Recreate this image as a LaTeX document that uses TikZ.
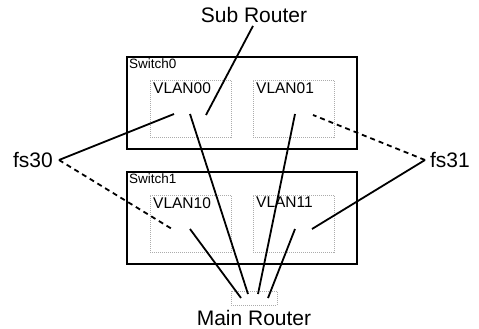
\documentclass[tikz,border=0pt]{standalone}
\usepackage{fontspec}
\setmainfont{Liberation Sans}
\tikzset{
  switchbox/.style = {draw,line width=2.2pt,minimum width=230pt,minimum height=92pt,inner sep=0pt},
  vlanbox/.style   = {draw=gray!65,densely dotted,line width=1pt,minimum width=81pt,minimum height=57pt,inner sep=0pt},
  routerbox/.style = {draw=gray!65,densely dotted,line width=1pt,minimum width=46pt,minimum height=14pt,inner sep=0pt},
  link/.style      = {line width=1.8pt},
  backup/.style    = {line width=1.8pt,dash pattern=on 5pt off 4pt},
  bigtext/.style   = {font=\fontsize{21}{24}\selectfont,inner sep=0pt},
  boxtext/.style   = {font=\fontsize{13.5}{15}\selectfont,inner sep=0pt,anchor=north west},
  vlantext/.style  = {font=\fontsize{15.5}{17}\selectfont,inner sep=0pt,anchor=north west}
}
\begin{document}
\begin{tikzpicture}[x=1pt,y=-1pt]
  \useasboundingbox (0,0) rectangle (479,329);
  % switches and their vlans
  \node[switchbox] (sw0) at (242,103) {};
  \node[switchbox] (sw1) at (242,218) {};
  \node[boxtext] at (129,59)  {Switch0};
  \node[boxtext] at (129,174) {Switch1};
  \node[vlanbox] (v00) at (190.5,108.5) {};
  \node[vlanbox] (v01) at (293.5,108.5) {};
  \node[vlanbox] (v10) at (190.5,223.5) {};
  \node[vlanbox] (v11) at (293.5,223.5) {};
  \node[vlantext] at (153,82)  {VLAN00};
  \node[vlantext] at (256,82)  {VLAN01};
  \node[vlantext] at (153,197) {VLAN10};
  \node[vlantext] at (256,197) {VLAN11};
  % routers and the two trunk ports
  \node[bigtext] (sub)  at (254,15)  {Sub Router};
  \node[routerbox] (main) at (254,298) {};
  \node[bigtext] (mainlbl) at (254,318) {Main Router};
  \node[bigtext] (fs30) at (33,160)  {fs30};
  \node[bigtext] (fs31) at (450,160) {fs31};
  % end points inside the vlans
  \coordinate (s00)  at (206,115);
  \coordinate (f00)  at (174,114);
  \coordinate (m00)  at (190,114);
  \coordinate (m01)  at (295,114);
  \coordinate (f01)  at (313,115);
  \coordinate (f10)  at (172,229);
  \coordinate (m10)  at (190,229);
  \coordinate (m11)  at (295,229);
  \coordinate (f11)  at (312,229);
  \coordinate (r00)  at (248,294);
  \coordinate (r01)  at (258,294);
  \coordinate (r10)  at (241,298);
  \coordinate (r11)  at (268,298);
  \coordinate (p30)  at (59,160);
  \coordinate (p31)  at (425,160);
  \draw[link]   (sub.south) ++(-1,3) -- (s00);
  \draw[link]   (p30) -- (f00);
  \draw[backup] (p30) -- (f10);
  \draw[backup] (p31) -- (f01);
  \draw[link]   (p31) -- (f11);
  \draw[link]   (m00) -- (r00);
  \draw[link]   (m01) -- (r01);
  \draw[link]   (m10) -- (r10);
  \draw[link]   (m11) -- (r11);
\end{tikzpicture}
\end{document}
